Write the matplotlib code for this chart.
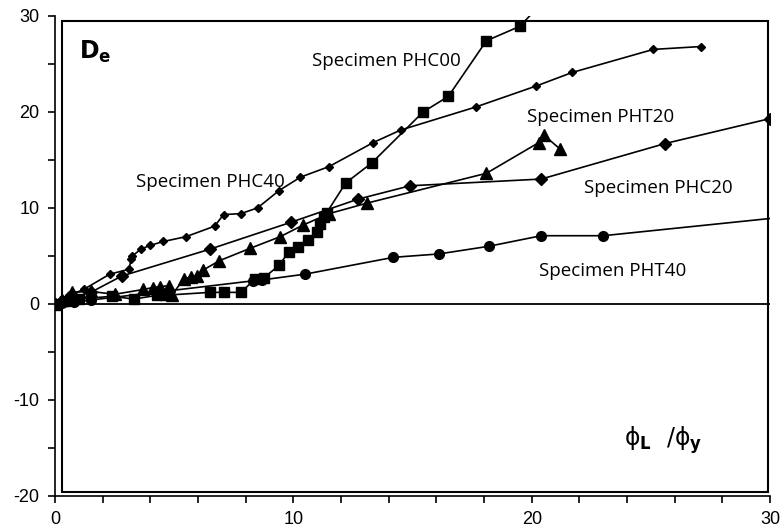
import matplotlib
matplotlib.use("Agg")
import matplotlib.pyplot as plt
from matplotlib.patches import Rectangle
from matplotlib.ticker import MultipleLocator

plt.rcParams["axes.unicode_minus"] = False

# ductility ratio phi_L / phi_y against damage index D_e
phc40_x = [0.0, 0.2, 0.6, 1.2, 2.3, 3.1, 3.2, 3.25, 3.6, 4.0, 4.55, 5.5, 6.7, 7.07,
           7.8, 8.5, 9.4, 10.3, 11.5, 13.35, 14.5, 17.65, 20.2, 21.7, 25.1, 27.1]
phc40_y = [0.0, 0.3, 0.9, 1.5, 3.1, 3.6, 4.7, 5.0, 5.7, 6.1, 6.5, 7.0, 8.1, 9.3,
           9.4, 10.0, 11.8, 13.2, 14.3, 16.8, 18.1, 20.5, 22.7, 24.1, 26.5, 26.8]

phc20_x = [0.0, 0.3, 0.8, 1.5, 2.8, 6.5, 9.9, 12.7, 14.9, 20.4, 25.6, 30.0]
phc20_y = [0.0, 0.3, 0.7, 1.2, 2.9, 5.7, 8.5, 10.9, 12.3, 13.0, 16.7, 19.3]

pht20_x = [0.0, 0.3, 0.7, 1.5, 2.5, 3.7, 4.1, 4.4, 4.8, 4.9, 5.4, 5.7, 5.95, 6.2,
           6.9, 8.2, 9.45, 10.4, 11.5, 13.1, 18.1, 20.3, 20.5, 21.2]
pht20_y = [0.0, 0.4, 1.2, 1.3, 1.0, 1.5, 1.7, 1.8, 1.9, 0.9, 2.6, 2.8, 2.95, 3.5,
           4.5, 5.8, 7.0, 8.2, 9.4, 10.5, 13.6, 16.8, 17.6, 16.1]

phc00_x = [0.0, 0.4, 1.0, 2.4, 3.3, 4.3, 4.6, 6.5, 7.1, 7.8, 8.4, 8.75, 9.4, 9.8,
           10.2, 10.6, 11.0, 11.1, 11.3, 11.4, 12.2, 13.3, 15.45, 16.5, 18.1, 19.5, 20.3]
phc00_y = [0.0, 0.3, 0.5, 0.8, 0.5, 0.9, 0.9, 1.2, 1.2, 1.2, 2.6, 2.7, 4.0, 5.4,
           5.9, 6.7, 7.5, 8.3, 9.0, 9.5, 12.6, 14.7, 20.0, 21.6, 27.4, 28.9, 31.0]

pht40_x = [0.0, 0.3, 0.8, 1.5, 8.3, 8.7, 10.5, 14.2, 16.1, 18.2, 20.4, 23.0, 31.0]
pht40_y = [0.0, 0.1, 0.2, 0.4, 2.4, 2.5, 3.1, 4.85, 5.2, 6.0, 7.1, 7.1, 9.15]

labels = ["Specimen PHC00", "Specimen PHC40", "Specimen PHT20",
          "Specimen PHC20", "Specimen PHT40"]
label_x = [13.9, 6.5, 22.9, 25.3, 23.4]
label_y = [25.3, 12.7, 19.5, 12.1, 3.45]

fig = plt.figure(figsize=(7.81, 5.30), dpi=100)
ax = fig.add_axes([0.0704, 0.0642, 0.9156, 0.906])

kw = dict(color="black", lw=1.2)
ax.plot(phc40_x, phc40_y, marker="D", ms=4, **kw)
ax.plot(phc20_x, phc20_y, marker="D", ms=6.5, **kw)
ax.plot(pht20_x, pht20_y, marker="^", ms=8, **kw)
ax.plot(phc00_x, phc00_y, marker="s", ms=7, **kw)
ax.plot(pht40_x, pht40_y, marker="o", ms=7, **kw)

ax.axhline(0, color="black", lw=1.3)
# inner plot-area frame, slightly inset from the axes
ax.add_patch(Rectangle((0.3, -19.6), 29.6, 49.1, fill=False, ec="black", lw=1.5))

ax.set_xlim(0, 30)
ax.set_ylim(-20, 30)
ax.xaxis.set_major_locator(MultipleLocator(10))
ax.xaxis.set_minor_locator(MultipleLocator(2))
ax.yaxis.set_major_locator(MultipleLocator(10))
ax.yaxis.set_minor_locator(MultipleLocator(5))
for s in ("top", "right"):
    ax.spines[s].set_visible(False)
for s in ("left", "bottom"):
    ax.spines[s].set_linewidth(1.2)
ax.tick_params(which="both", direction="out", length=5, width=1.2,
               labelsize=13, pad=6)
for t in ax.get_xticklabels() + ax.get_yticklabels():
    t.set_fontfamily("Liberation Sans")

for txt, x, y in zip(labels, label_x, label_y):
    ax.text(x, y, txt, ha="center", va="center", fontsize=13.5, family="Open Sans")

ax.text(1.0, 26.2, r"$\mathbf{D}_{\mathbf{e}}$", fontsize=17, ha="left", va="center")
ax.text(25.5, -14.2, r"$\mathrm{ϕ}_{\mathbf{L}}$  $/\mathrm{ϕ}_{\mathbf{y}}$", fontsize=17,
        ha="center", va="center")

fig.savefig("out.png", dpi=100)
